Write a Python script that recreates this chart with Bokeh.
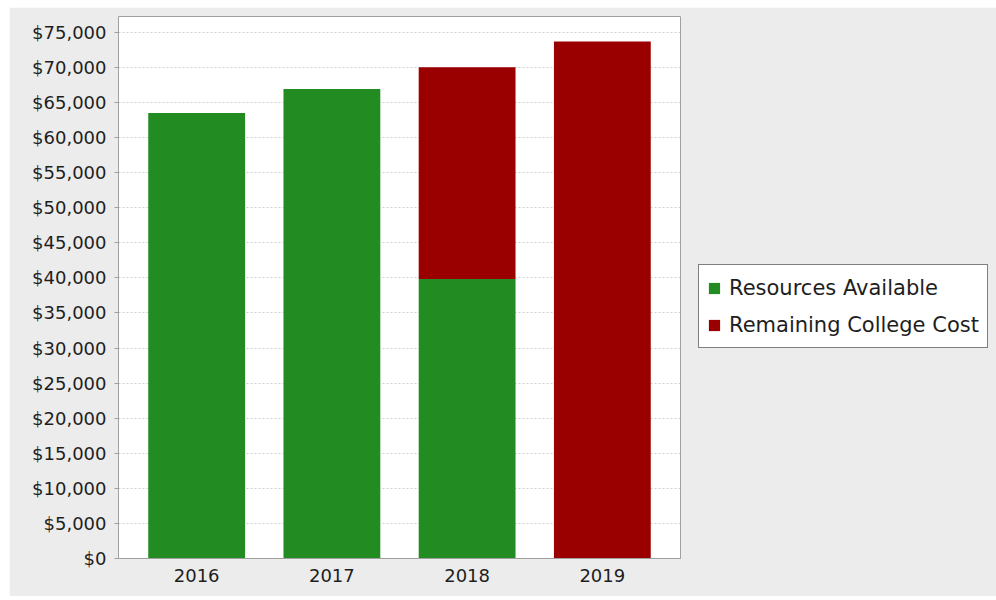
from bokeh.plotting import figure
from bokeh.models import ColumnDataSource, FactorRange, NumeralTickFormatter, Range1d, Legend
from bokeh.embed import file_html
from bokeh.resources import INLINE

years = ["2016", "2017", "2018", "2019"]
resources = [63500, 66900, 39850, 0]
remaining = [0, 0, 30150, 73700]
y_ticks = list(range(0, 75001, 5000))
series = ["Resources Available", "Remaining College Cost"]
colors = ["#228b22", "#9a0000"]

source = ColumnDataSource(dict(year=years, resources=resources, remaining=remaining))

p = figure(
    x_range=FactorRange(*years, range_padding=0.039, range_padding_units="percent"),
    y_range=Range1d(0, 77250),
    frame_width=562, frame_height=542,
    min_border_left=109, min_border_top=9, min_border_bottom=38, min_border_right=0,
    output_backend="svg", toolbar_location=None,
)
p.margin = (7, 0, 4, 9)

renderers = p.vbar_stack(["resources", "remaining"], x="year", width=0.716, color=colors,
                         line_color=None, source=source)

font = "DejaVu Sans"
p.background_fill_color = "white"
p.border_fill_color = "#ececec"
p.outline_line_color = "#a0a0a0"

p.xgrid.grid_line_color = None
p.ygrid.ticker = y_ticks
p.ygrid.grid_line_color = "#d0d0d0"
p.ygrid.grid_line_dash = "2 2"

p.yaxis.ticker = y_ticks
p.yaxis.formatter = NumeralTickFormatter(format="$0,0")
p.yaxis.minor_tick_line_color = None
p.yaxis.major_tick_out = 4
p.yaxis.major_tick_in = 0
p.yaxis.major_label_standoff = 8
p.yaxis.major_tick_line_color = "#a0a0a0"
p.xaxis.major_tick_line_color = None
p.xaxis.major_tick_out = 0
p.xaxis.major_label_standoff = 10
for ax in (p.xaxis, p.yaxis):
    ax.axis_line_color = "#a0a0a0"
    ax.major_label_text_font = font
    ax.major_label_text_font_size = "18px"
    ax.major_label_text_color = "#1e1e1e"

lg = Legend(items=[(series[0], [renderers[0]]), (series[1], [renderers[1]])])
lg.location = (18, 210)
lg.label_text_font = font
lg.label_text_font_size = "21px"
lg.label_text_color = "#1e1e1e"
lg.glyph_width = 14
lg.glyph_height = 14
lg.label_standoff = 8
lg.label_height = 29
lg.spacing = 8
lg.padding = 8
lg.margin = 0
lg.border_line_color = "black"
lg.border_line_width = 1
lg.background_fill_color = "white"
lg.background_fill_alpha = 1.0
p.add_layout(lg, "right")
p.min_border_right = 316

open("out.html", "w").write(file_html(p, INLINE))
